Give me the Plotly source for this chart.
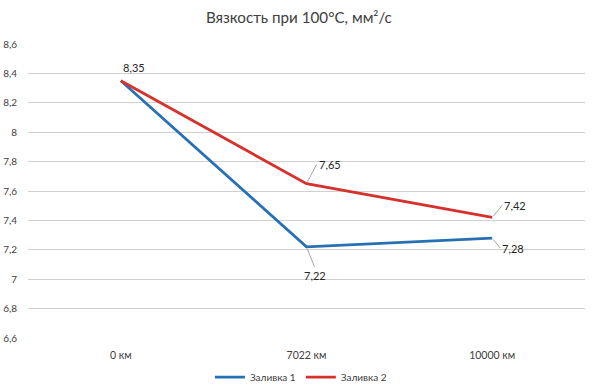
import plotly.graph_objects as go

categories = ["0 км", "7022 км", "10000 км"]
series1_name = "Заливка 1"
series1 = [8.35, 7.22, 7.28]
series2_name = "Заливка 2"
series2 = [8.35, 7.65, 7.42]
y_ticks = [6.6, 6.8, 7.0, 7.2, 7.4, 7.6, 7.8, 8.0, 8.2, 8.4, 8.6]
title = "Вязкость при 100°C, мм²/с"

def fmt(v):
    s = ("%.2f" % v).rstrip("0").rstrip(".")
    return s.replace(".", ",")

BLUE = "#2770B4"
RED = "#D6312D"
FONT = "Lato, 'Open Sans', sans-serif"
x_idx = list(range(len(categories)))

fig = go.Figure()
fig.add_trace(go.Scatter(x=x_idx, y=series1, mode="lines", name=series1_name,
                         line=dict(color=BLUE, width=2.8)))
fig.add_trace(go.Scatter(x=x_idx, y=series2, mode="lines", name=series2_name,
                         line=dict(color=RED, width=2.8)))

annots = []
annots.append(dict(x=0, y=series2[0], text=fmt(series2[0]), showarrow=False,
                   xshift=13, yshift=13))
for i, (ax, ay) in zip([1, 2], [(10, -19), (10, -12)]):
    annots.append(dict(x=i, y=series2[i], text=fmt(series2[i]), showarrow=True,
                       arrowhead=0, arrowwidth=1, arrowcolor="#A6A6A6",
                       ax=ax, ay=ay, xanchor="left", yanchor="middle", standoff=2))
annots.append(dict(x=1, y=series1[1], text=fmt(series1[1]), showarrow=True,
                   arrowhead=0, arrowwidth=1, arrowcolor="#A6A6A6",
                   ax=8, ay=20, xanchor="center", yanchor="top", standoff=2))
annots.append(dict(x=2, y=series1[2], text=fmt(series1[2]), showarrow=True,
                   arrowhead=0, arrowwidth=1, arrowcolor="#A6A6A6",
                   ax=8, ay=10, xanchor="left", yanchor="middle", standoff=2))
for a in annots:
    a["font"] = dict(family=FONT, size=11, color="#262626")

fig.update_layout(
    width=592, height=392,
    margin=dict(l=28, r=7, t=44, b=54, autoexpand=False),
    paper_bgcolor="white", plot_bgcolor="white",
    title=dict(text=title, x=0.505, xanchor="center", y=0.954, yanchor="middle",
               font=dict(family=FONT, size=15.2, color="#404040")),
    font=dict(family=FONT, size=10, color="#595959"),
    xaxis=dict(tickmode="array", tickvals=x_idx, ticktext=categories,
               range=[-0.5, len(categories) - 0.5], showgrid=False, zeroline=False,
               showline=False, ticks="", automargin=False, ticklabelstandoff=9,
               tickfont=dict(size=10.5, color="#404040")),
    yaxis=dict(tickmode="array", tickvals=y_ticks,
               ticktext=[fmt(v) for v in y_ticks], range=[6.6, 8.6],
               showgrid=True, gridcolor="#D0D0D0", gridwidth=1, zeroline=False,
               showline=False, ticks="", ticklabelstandoff=10, automargin=False,
               tickfont=dict(size=10, color="#404040")),
    legend=dict(orientation="h", x=0.49, xanchor="center", y=-0.133, yanchor="middle",
                font=dict(size=10, color="#404040"), itemwidth=30),
    annotations=annots,
    showlegend=True,
)

fig.write_html("out.html", config={"displayModeBar": False},
               post_script="document.body.style.margin='0px';")
